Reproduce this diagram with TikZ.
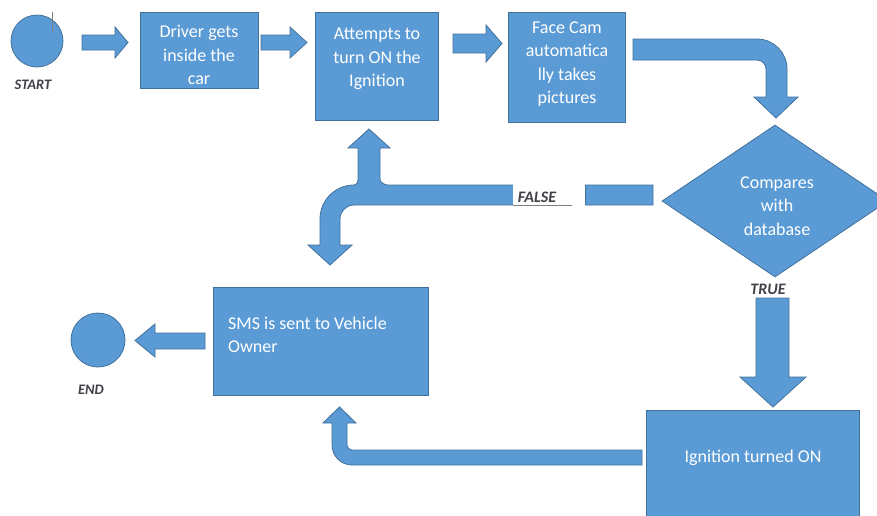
\documentclass[tikz,border=0pt]{standalone}
\usepackage{fontspec}
\setmainfont{Carlito}
\usetikzlibrary{shapes.geometric}
\definecolor{boxblue}{RGB}{91,155,213}
\definecolor{boxedge}{RGB}{65,113,156}
\definecolor{lblgray}{RGB}{64,64,72}
\begin{document}
\begin{tikzpicture}[x=1pt,y=-1pt,
  blk/.style={fill=boxblue, draw=boxedge, line width=0.8pt},
  boxshape/.style={blk, rectangle, inner sep=0pt},
  txt/.style={text=white, font=\fontsize{18}{23.5}\selectfont, align=center, inner sep=0pt},
  lbl/.style={text=lblgray, font=\fontsize{14.5}{17}\selectfont\bfseries\itshape, inner sep=0pt},
  lblbig/.style={lbl, font=\fontsize{16}{19}\selectfont\bfseries\itshape}]
\useasboundingbox (0,0) rectangle (877,515);
\clip (0,0) rectangle (877,515);
\fill[white] (0,0) rectangle (877,515);

% ---- nodes ----
\node[blk, circle, minimum size=52pt, inner sep=0pt] (start) at (37,41) {};
\draw[gray, line width=0.8pt] (52,12) -- (52,33);
\node[lbl] (startlbl) at (33,85) {START};

\node[boxshape, minimum width=118pt, minimum height=76pt] (drv) at (199,50) {};
\node[txt] (drvtxt) at (199,55) {Driver gets\\inside the\\car};

\node[boxshape, minimum width=123pt, minimum height=108pt] (att) at (376.5,66) {};
\node[txt] (atttxt) at (377,59) {Attempts to\\turn ON the\\Ignition};

\node[boxshape, minimum width=117pt, minimum height=110pt] (cam) at (566.5,67) {};
\node[txt] (camtxt) at (567,64) {Face Cam\\automatica\\lly takes\\pictures};

\node[blk, diamond, minimum width=226pt, minimum height=152pt, inner sep=0pt] (cmp) at (775,201) {};
\node[txt] (cmptxt) at (777,206) {Compares\\with\\database};

\node[boxshape, minimum width=213pt, minimum height=120pt] (ign) at (752.5,470) {};
\node[txt] (igntxt) at (753,458) {Ignition turned ON};

\node[boxshape, minimum width=215pt, minimum height=108pt] (sms) at (320.5,341) {};
\node[txt, align=left, anchor=west] (smstxt) at (228,335) {SMS is sent to Vehicle\\Owner};

\node[blk, circle, minimum size=54pt, inner sep=0pt] (end) at (98,340) {};
\node[lbl] (endlbl) at (91,390) {END};

% ---- block arrows ----
% start -> drv
\filldraw[blk] (82,35) -- (115,35) -- (115,27) -- (128,42.5) -- (115,58) -- (115,50) -- (82,50) -- cycle;
% drv -> att
\filldraw[blk] (261,35) -- (290,35) -- (290,27) -- (307,42.5) -- (290,58) -- (290,50) -- (261,50) -- cycle;
% att -> cam
\filldraw[blk] (453,34) -- (486,34) -- (486,25) -- (502,43.5) -- (486,62) -- (486,53) -- (453,53) -- cycle;
% cam -> cmp (bent arrow)
\filldraw[blk] (633,39) -- (757,39) .. controls (773.6,39) and (787,52.4) .. (787,69)
  -- (787,97) -- (798,97) -- (776,118) -- (754,97) -- (766,97) -- (766,69)
  .. controls (766,64) and (762,60) .. (757,60) -- (633,60) -- cycle;
% cmp -> att / sms (FALSE, branching arrow)
\filldraw[blk] (653,185) -- (388,185) .. controls (384.4,185) and (380,182.3) .. (380,179)
  -- (380,148) -- (390,148) -- (369,129) -- (348,148) -- (358,148) -- (358,180)
  .. controls (358,183) and (356.5,185) .. (354,185)
  .. controls (335.2,185) and (320,200.2) .. (320,219)
  -- (320,245) -- (308,245) -- (330,265) -- (352,245) -- (340,245) -- (340,219)
  .. controls (340,211.3) and (346.3,205) .. (354,205) -- (653,205) -- cycle;
\fill[white] (513,184) rectangle (585,206.4);
\draw[boxedge, line width=0.8pt] (585,185) -- (585,205);
\node[lblbig] (falselbl) at (537,197) {FALSE};
\draw[gray, line width=0.7pt] (513,205.5) -- (572,205.5);
% cmp -> ign (TRUE)
\filldraw[blk] (756,298) -- (789,298) -- (789,377) -- (806,377) -- (773,407) -- (740,377) -- (756,377) -- cycle;
\node[lblbig] (truelbl) at (768,289) {TRUE};
% ign -> sms (bent arrow)
\filldraw[blk] (642,450) -- (352,450) .. controls (349.2,450) and (347,447.8) .. (347,445)
  -- (347,423) -- (356,423) -- (339.5,407) -- (323,423) -- (332,423) -- (332,445)
  .. controls (332,456) and (341,465) .. (352,465) -- (642,465) -- cycle;
% sms -> end
\filldraw[blk] (205,333) -- (155,333) -- (155,324) -- (135,340.5) -- (155,357) -- (155,349) -- (205,349) -- cycle;
\end{tikzpicture}
\end{document}
